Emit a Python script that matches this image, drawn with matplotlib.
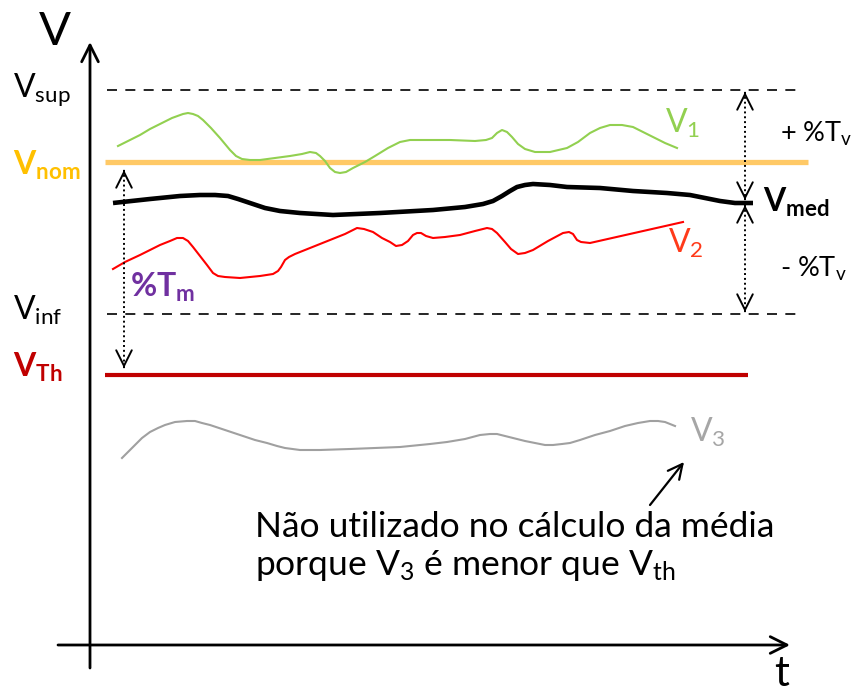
import matplotlib
matplotlib.use('Agg')
import matplotlib.pyplot as plt

# níveis de tensão (unidades arbitrárias; t = tempo)
v_sup = 555
v_nom = 483
v_inf = 331
v_th = 270

# curvas V1, V2, V3 e Vmed (t, V)
v1_t = [28, 40, 50, 60, 70, 82, 93, 98, 103, 108, 113, 121, 130, 140, 146, 152, 160, 170, 185, 200,
        212, 220, 226, 230, 235, 240, 245, 250, 256, 263, 275, 285, 298, 310, 320, 335, 360, 385, 396, 402,
        407, 412, 417, 422, 428, 435, 445, 460, 477, 488, 500, 510, 520, 532, 543, 555, 563, 575, 587]
v1_v = [499, 505, 510, 516, 521, 527, 531, 532, 531, 529, 525, 517, 507, 495, 489, 486, 485, 485, 487, 489,
        491, 493, 492, 489, 484, 477, 473, 472, 473, 477, 483, 489, 497, 503, 505, 505, 505, 504, 505, 507,
        512, 515, 513, 508, 501, 496, 493, 493, 497, 503, 512, 517, 520, 520, 518, 512, 508, 502, 497]

v2_t = [23, 35, 50, 60, 70, 80, 87, 93, 98, 103, 110, 117, 123, 128, 135, 150, 170, 183, 188, 191,
        195, 199, 205, 215, 240, 255, 267, 274, 283, 292, 300, 306, 312, 318, 323, 327, 331, 336, 343, 355,
        370, 385, 397, 402, 407, 415, 421, 428, 435, 443, 458, 473, 479, 483, 487, 491, 500, 593]
v2_v = [376, 383, 390, 395, 400, 404, 407, 407, 404, 398, 389, 380, 372, 369, 368, 367, 369, 371, 374, 378,
        385, 388, 391, 395, 405, 411, 417, 416, 413, 407, 403, 399, 400, 404, 410, 412, 412, 409, 407, 408,
        410, 414, 417, 416, 412, 403, 396, 391, 392, 395, 404, 412, 413, 411, 405, 403, 402, 423]

v3_t = [32, 38, 45, 52, 60, 68, 75, 85, 97, 105, 112, 120, 135, 150, 165, 177, 187, 195, 210, 230,
        260, 310, 340, 357, 375, 390, 400, 407, 415, 423, 435, 445, 455, 463, 472, 480, 490, 505, 520, 535,
        548, 560, 568, 575, 580, 585]
v3_v = [187, 193, 200, 207, 213, 217, 220, 223, 224, 224, 222, 220, 215, 210, 205, 202, 199, 197, 195, 195,
        196, 198, 201, 203, 206, 210, 211, 211, 209, 207, 204, 202, 200, 200, 201, 202, 205, 210, 214, 219,
        222, 224, 224, 223, 221, 219]

vmed_t = [23, 60, 90, 110, 125, 138, 148, 160, 175, 190, 210, 243, 290, 343, 375, 393, 403, 412, 420, 427,
          435, 443, 460, 477, 510, 543, 577, 600, 615, 630, 645, 663]
vmed_v = [442, 446, 449, 450, 450, 449, 446, 442, 437, 434, 432, 430, 432, 435, 438, 441, 444, 449, 454, 458,
          460, 461, 460, 458, 457, 454, 452, 450, 447, 444, 442, 442]

plt.rcParams['font.family'] = ['Lato', 'DejaVu Sans']
plt.rcParams['mathtext.fontset'] = 'custom'
plt.rcParams['mathtext.rm'] = 'Lato'
plt.rcParams['mathtext.it'] = 'Lato:italic'
plt.rcParams['mathtext.bf'] = 'Lato:bold'

fig = plt.figure(figsize=(8.56, 6.93), dpi=100)
ax = fig.add_axes([0, 0, 1, 1])
ax.set_xlim(-90, 766)
ax.set_ylim(-48, 645)
ax.axis('off')

# eixos
ax.annotate('', xy=(0, 603), xytext=(0, -23),
            arrowprops=dict(arrowstyle='->', lw=2, color='black', mutation_scale=30, shrinkA=0, shrinkB=0))
ax.annotate('', xy=(700, 0), xytext=(-32, 0),
            arrowprops=dict(arrowstyle='->', lw=2, color='black', mutation_scale=30, shrinkA=0, shrinkB=0))
ax.text(-35, 613, 'V', fontsize=34, ha='center', va='center')
ax.text(692, -29, 't', fontsize=30, ha='center', va='center')

# níveis
ax.plot([17, 710], [v_sup, v_sup], color='black', lw=1.2, dashes=(6, 5))
ax.plot([17, 710], [v_inf, v_inf], color='black', lw=1.2, dashes=(6, 5))
ax.plot([15, 718], [v_nom, v_nom], color='#FFC966', lw=3.8, solid_capstyle='butt')
ax.plot([15, 658], [v_th, v_th], color='#C00000', lw=3, solid_capstyle='butt')

# curvas
ax.plot(v1_t, v1_v, color='#92D050', lw=1.5, solid_joinstyle='round')
ax.plot(v2_t, v2_v, color='#FF0000', lw=1.5, solid_joinstyle='round')
ax.plot(v3_t, v3_v, color='#A0A0A0', lw=1.5, solid_joinstyle='round')
ax.plot(vmed_t, vmed_v, color='black', lw=3.3, solid_joinstyle='round', solid_capstyle='butt')


def dotted_arrow(t, v0, v1):
    ax.plot([t, t], [v0, v1], color='black', lw=1.4, linestyle=(0, (1, 1.5)))
    for a, b in [(v0, v1), (v1, v0)]:
        d = 1 if b > a else -1
        ax.annotate('', xy=(t, b), xytext=(t, b - d * 1),
                    arrowprops=dict(arrowstyle='->', lw=1.4, color='black', mutation_scale=28,
                                    shrinkA=0, shrinkB=0))


dotted_arrow(655, 553, 445)
dotted_arrow(655, 440, 333)
dotted_arrow(34, 475, 277)

# rótulos
lab = dict(fontsize=23, ha='left', va='baseline')
ax.text(-77, 548, r'V$_{\mathrm{sup}}$', **lab)
ax.text(-77, 325, r'V$_{\mathrm{inf}}$', **lab)
ax.text(-77, 470, r'$\mathbf{V_{nom}}$', color='#FFC000', **lab)
ax.text(-77, 268, r'$\mathbf{V_{Th}}$', color='#C00000', **lab)
ax.text(40, 348, r'$\mathbf{\%T_{m}}$', color='#7030A0', **lab)
ax.text(673, 433, r'$\mathbf{V_{med}}$', color='black', **lab)
ax.text(690, 503, r'+ %T$_{\mathrm{v}}$', fontsize=19.5, ha='left', va='baseline')
ax.text(690, 368, r'- %T$_{\mathrm{v}}$', fontsize=19.5, ha='left', va='baseline')
ax.text(575, 512, r'V$_{1}$', color='#92D050', **lab)
ax.text(578, 392, r'V$_{2}$', color='#FF3A1A', **lab)
ax.text(600, 203, r'V$_{3}$', color='#A6A6A6', **lab)

ax.annotate('', xy=(594, 183), xytext=(560, 140),
            arrowprops=dict(arrowstyle='->', lw=1.6, color='black', mutation_scale=26, shrinkA=0, shrinkB=0))
ax.text(165, 108, 'Não utilizado no cálculo da média', fontsize=25.5, ha='left', va='baseline')
ax.text(165, 70, r'porque V$_3$ é menor que V$_{\mathrm{th}}$', fontsize=25.5, ha='left', va='baseline')

plt.savefig('out.png', dpi=100)
